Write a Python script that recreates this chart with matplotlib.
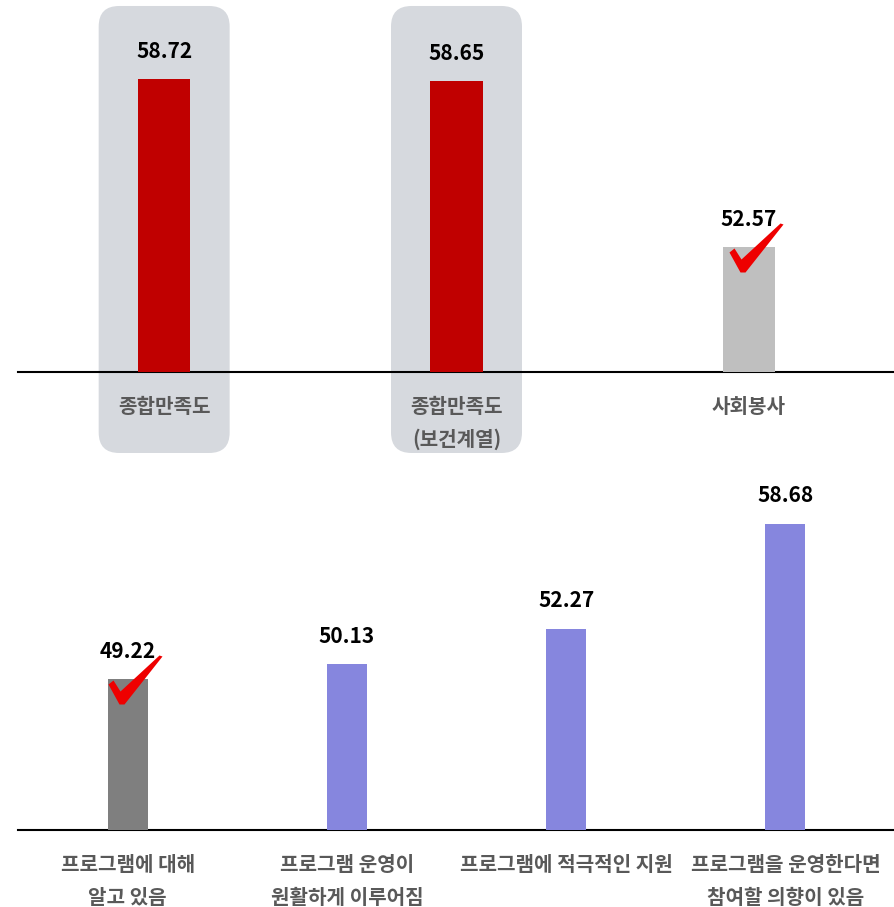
import matplotlib
matplotlib.use("Agg")
import matplotlib.pyplot as plt
from matplotlib.patches import FancyBboxPatch
from matplotlib.path import Path
import matplotlib.transforms as mtransforms

plt.rcParams['font.family'] = ['Noto Sans CJK KR', 'DejaVu Sans']

# data
top_labels = ['종합만족도', '종합만족도\n(보건계열)', '사회봉사']
top_values = [58.72, 58.65, 52.57]
top_colors = ['#c00000', '#c00000', '#bfbfbf']
top_highlight = [0, 1]
top_check = [2]

bottom_labels = ['프로그램에 대해\n알고 있음', '프로그램 운영이\n원활하게 이루어짐',
                 '프로그램에 적극적인 지원', '프로그램을 운영한다면\n참여할 의향이 있음']
bottom_values = [49.22, 50.13, 52.27, 58.68]
bottom_colors = ['#7f7f7f', '#8686de', '#8686de', '#8686de']
bottom_check = [0]

W, H = 895, 907
DPI = 100
fig = plt.figure(figsize=(W / DPI, H / DPI), dpi=DPI)

label_color = '#595959'

# check mark shape, pixel units relative to bar top centre (y up)
check_verts = [(-20, -5), (-15, -1), (-8, -12), (31, 24), (34, 23),
               (-4, -25), (-9, -25), (-20, -5)]
check_path = Path(check_verts, [Path.MOVETO] + [Path.LINETO] * 6 + [Path.CLOSEPOLY])
max_abs = max(max(abs(a), abs(b)) for a, b in check_verts)
check_ms = 2 * max_abs * 72 / DPI


def setup_axes(ax):
    ax.patch.set_visible(False)
    for s in ['top', 'left', 'right']:
        ax.spines[s].set_visible(False)
    ax.spines['bottom'].set_linewidth(1.5)
    ax.tick_params(axis='x', length=0, pad=17)
    ax.set_yticks([])


# top chart
ax1 = fig.add_axes([18 / W, (H - 372) / H, 877 / W, 372 / H])
setup_axes(ax1)
x1 = list(range(len(top_values)))
ax1.bar(x1, top_values, width=0.18, color=top_colors, zorder=3)
ax1.set_xlim(-0.5, 2.5)
ax1.set_ylim(48, 48 + 372 / 27.34)
ax1.set_xticks(x1)
ax1.set_xticklabels(top_labels, fontsize=14.5, fontweight='bold', color=label_color,
                    linespacing=1.7, va='top')

blend = mtransforms.blended_transform_factory(ax1.transData, ax1.transAxes)
for i in top_highlight:
    box = FancyBboxPatch((i - 0.224, -0.2177), 0.448, 0.9839 + 0.2177,
                         boxstyle="round,pad=0,rounding_size=0.07",
                         mutation_aspect=292 / 372,
                         transform=blend, facecolor='#d6d9de', edgecolor='none',
                         clip_on=False, zorder=0)
    ax1.add_patch(box)

for i, v in enumerate(top_values):
    ax1.annotate(f'{v:.2f}', (i, v), xytext=(0, 20), textcoords='offset points',
                 ha='center', va='center', fontsize=15, fontweight='bold', color='black')
for i in top_check:
    ax1.plot([i], [top_values[i]], marker=check_path, ms=check_ms, color='#ee0000',
             mew=0, linestyle='none', clip_on=False, zorder=5)

# bottom chart
ax2 = fig.add_axes([18 / W, (H - 830) / H, 877 / W, 370 / H])
setup_axes(ax2)
x2 = list(range(len(bottom_values)))
ax2.bar(x2, bottom_values, width=0.183, color=bottom_colors, zorder=3)
ax2.set_xlim(-0.5, 3.5)
ax2.set_ylim(40, 40 + 370 / 16.4)
ax2.set_xticks(x2)
ax2.set_xticklabels(bottom_labels, fontsize=14.5, fontweight='bold', color=label_color,
                    linespacing=1.7, va='top')

for i, v in enumerate(bottom_values):
    ax2.annotate(f'{v:.2f}', (i, v), xytext=(0, 20), textcoords='offset points',
                 ha='center', va='center', fontsize=15, fontweight='bold', color='black')
for i in bottom_check:
    ax2.plot([i], [bottom_values[i]], marker=check_path, ms=check_ms, color='#ee0000',
             mew=0, linestyle='none', clip_on=False, zorder=5)

fig.savefig('out.png', dpi=DPI)
